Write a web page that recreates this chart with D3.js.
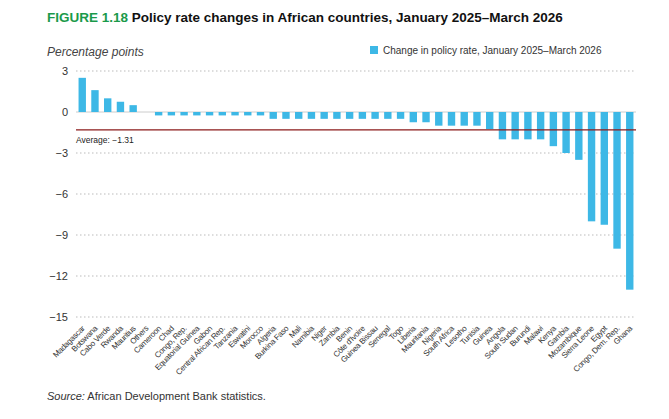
<!DOCTYPE html>
<html><head><meta charset="utf-8">
<script src="https://cdn.jsdelivr.net/npm/d3@7"></script>
<style>body{margin:0;background:#fff;font-family:Arial,"Liberation Sans",sans-serif}</style>
</head><body><svg id="c" width="669" height="419"></svg>
<script>
const categories=["Madagascar","Botswana","Cabo Verde","Rwanda","Mauritius","Others","Cameroon","Chad","Congo, Rep.","Equatorial Guinea","Gabon","Central African Rep.","Tanzania","Eswatini","Morocco","Algeria","Burkina Faso","Mali","Namibia","Niger","Zambia","Benin","Côte d'Ivoire","Guinea Bissau","Senegal","Togo","Liberia","Mauritania","Nigeria","South Africa","Lesotho","Tunisia","Guinea","Angola","South Sudan","Burundi","Malawi","Kenya","Gambia","Mozambique","Sierra Leone","Egypt","Congo, Dem. Rep.","Ghana"];
const values=[2.5,1.6,1.0,0.75,0.5,0,-0.25,-0.25,-0.25,-0.25,-0.25,-0.25,-0.25,-0.25,-0.25,-0.5,-0.5,-0.5,-0.5,-0.5,-0.5,-0.5,-0.5,-0.5,-0.5,-0.5,-0.75,-0.75,-1,-1,-1,-1,-1.25,-2,-2,-2,-2,-2.5,-3,-3.5,-8,-8.25,-10,-13];
const average=-1.31;
const yTicks=[3,0,-3,-6,-9,-12,-15];
const svg=d3.select("#c");
const L=76,R=636,T=71,B=317;
const x=d3.scaleBand().domain(categories).range([L,R]).paddingInner(0.42).paddingOuter(0.2);
const y=d3.scaleLinear().domain([-15,3]).range([B,T]);
svg.append("text").attr("x",47).attr("y",22).attr("font-size",13.5).attr("font-weight","bold")
 .html('<tspan fill="#1a9a4a">FIGURE 1.18</tspan><tspan fill="#111"> Policy rate changes in African countries, January 2025–March 2026</tspan>');
svg.append("text").attr("x",47).attr("y",56).attr("font-size",12).attr("font-style","italic").attr("fill","#444").text("Percentage points");
svg.append("rect").attr("x",370).attr("y",46).attr("width",8).attr("height",8).attr("fill","#3db8e6");
svg.append("text").attr("x",383).attr("y",54).attr("font-size",10).attr("fill","#333").text("Change in policy rate, January 2025–March 2026");
yTicks.forEach(t=>{
 if(t!==0) svg.append("line").attr("x1",L).attr("x2",R).attr("y1",y(t)).attr("y2",y(t)).attr("stroke","#bbb").attr("stroke-dasharray","1.5,2.5");
 svg.append("text").attr("x",68).attr("y",y(t)+4).attr("text-anchor","end").attr("font-size",11).attr("fill","#333").text(t<0?"−"+(-t):t);
});
svg.append("line").attr("x1",L).attr("x2",R).attr("y1",y(0)).attr("y2",y(0)).attr("stroke","#ccc");
svg.selectAll("rect.b").data(values).enter().append("rect").attr("class","b")
 .attr("x",(d,i)=>x(categories[i])).attr("width",x.bandwidth())
 .attr("y",d=>y(Math.max(0,d))).attr("height",d=>Math.abs(y(d)-y(0))).attr("fill","#3db8e6");
svg.append("line").attr("x1",L).attr("x2",R).attr("y1",y(average)).attr("y2",y(average)).attr("stroke","#8b1a1a").attr("stroke-width",1.3);
svg.append("text").attr("x",L).attr("y",y(average)+13).attr("font-size",8.5).attr("fill","#222").text("Average: −1.31");
categories.forEach(c=>{
 const cx=x(c)+x.bandwidth()/2+3;
 svg.append("text").attr("transform",`translate(${cx},${B+12}) rotate(-45)`).attr("text-anchor","end")
 .attr("font-size",8).attr("fill","#333").attr("letter-spacing","-0.3").text(c);
});
svg.append("text").attr("x",47).attr("y",400).attr("font-size",11).attr("fill","#333")
 .html('<tspan font-style="italic">Source:</tspan> African Development Bank statistics.');
</script></body></html>
